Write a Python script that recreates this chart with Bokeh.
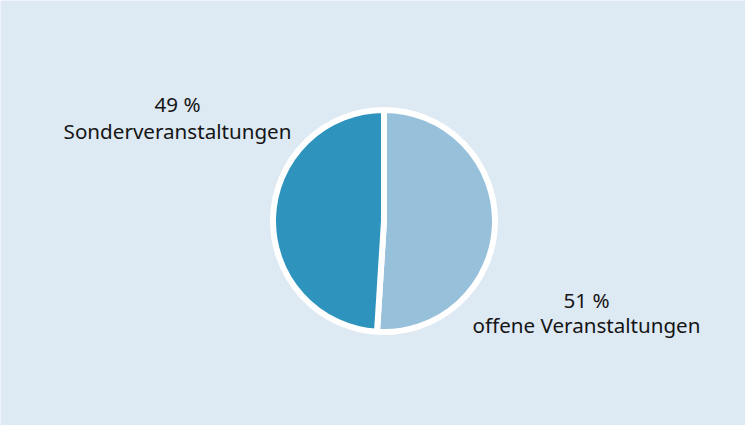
import math
from bokeh.plotting import figure
from bokeh.models import ColumnDataSource
from bokeh.core.properties import value
from bokeh.embed import file_html
from bokeh.resources import INLINE

# ---- data ----
categories = ["offene Veranstaltungen", "Sonderveranstaltungen"]
shares = [51, 49]
pct_labels = ["51 %", "49 %"]
colors = ["#97c0da", "#2f94bd"]

# ---- layout constants ----
W, H = 745, 425
BG = "#dde9f3"
CX, CY, R = 383.5, 204.5, 111

total = sum(shares)
starts, ends = [], []
acc = 0.0
for s in shares:
    a0 = math.pi / 2 - 2 * math.pi * acc / total
    acc += s
    a1 = math.pi / 2 - 2 * math.pi * acc / total
    starts.append(a0)
    ends.append(a1)

src = ColumnDataSource(dict(cat=categories, share=shares, start=starts, end=ends,
                            color=colors, x=[CX] * len(shares), y=[CY] * len(shares)))

p = figure(width=W, height=H, x_range=(0, W), y_range=(0, H),
           output_backend="svg", toolbar_location=None, min_border=0)
p.axis.visible = False
p.grid.visible = False
p.outline_line_color = None
p.background_fill_color = BG
p.border_fill_color = BG

p.wedge(x="x", y="y", radius=R, start_angle="start", end_angle="end",
        direction="clock", fill_color="color", line_color="white",
        line_width=6, source=src)

# labels: (x, baseline of first line, baseline of second line)
label_pos = {"offene Veranstaltungen": (586, 126, 101),
             "Sonderveranstaltungen": (177, 322, 295)}
tx, ty, tt = [], [], []
for cat, pl in zip(categories, pct_labels):
    x, y1, y2 = label_pos[cat]
    tx += [x, x]
    ty += [y1, y2]
    tt += [pl, cat]

p.text(x=tx, y=ty, text=tt, text_align="center", text_baseline="alphabetic",
       text_font=value("Noto Sans"), text_font_size="20.6px", text_color="#151515")

open("out.html", "w").write(file_html(p, INLINE))
